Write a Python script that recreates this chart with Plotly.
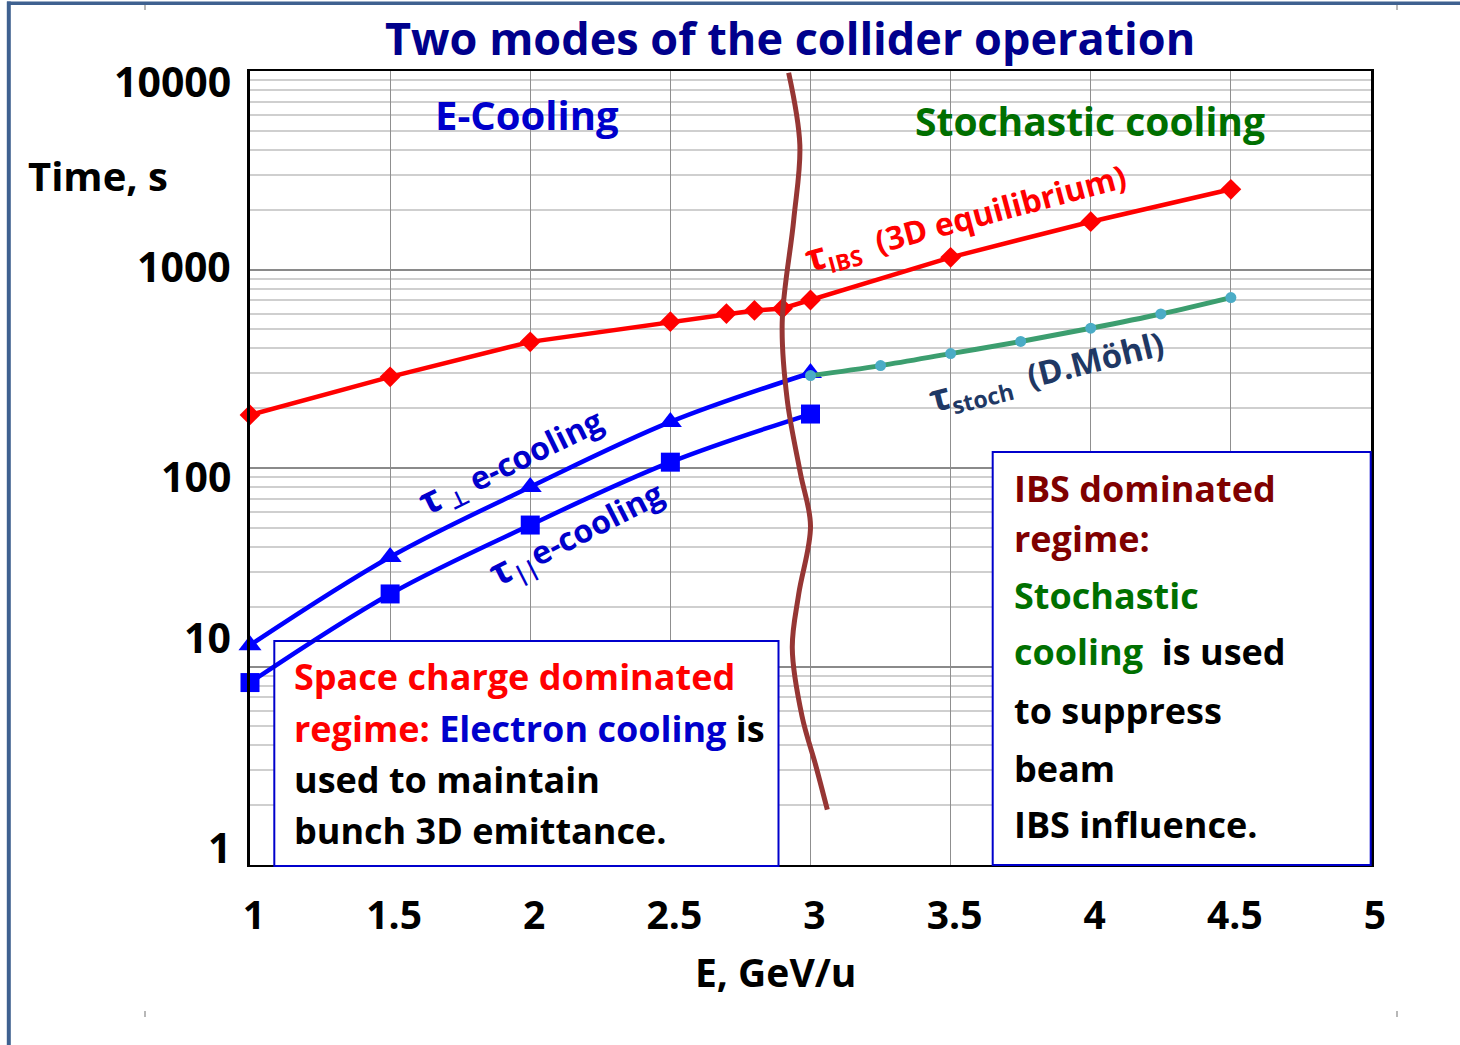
import math
import plotly.graph_objects as go

# ---------------- data ----------------
# IBS growth time (3D equilibrium)
energy_ibs = [1.0, 1.5, 2.0, 2.5, 2.7, 2.8, 2.9, 3.0, 3.5, 4.0, 4.5]
tau_ibs = [185, 288, 432, 546, 600, 622, 636, 702, 1152, 1741, 2535]

# electron cooling times
energy_ecool = [1.0, 1.5, 2.0, 2.5, 3.0]
tau_perp = [12.8, 35.6, 80.2, 170.6, 301]
tau_par = [8.3, 23.2, 51.6, 107, 187]

# stochastic cooling time (D. Moehl)
energy_stoch = [3.0, 3.25, 3.5, 3.75, 4.0, 4.25, 4.5]
tau_stoch = [292, 328, 377, 434, 506, 597, 722]

# boundary between the two operating modes
boundary_energy = [2.922, 2.962, 2.940, 2.899, 2.917, 2.964, 3.0, 2.958, 2.935, 2.970, 3.018, 3.06]
boundary_time = [9800, 4240, 1770, 541, 220, 94, 51, 23.2, 12.4, 5.6, 3.2, 1.9]

x_ticks = [1, 1.5, 2, 2.5, 3, 3.5, 4, 4.5, 5]
x_tick_labels = ["1", "1.5", "2", "2.5", "3", "3.5", "4", "4.5", "5"]
y_ticks = [1, 10, 100, 1000, 10000]
y_tick_labels = ["1", "10", "100", "1000", "10000"]

# ---------------- geometry helpers ----------------
W, H = 1460, 1045
L, R, T, B = 250, 89, 71, 180
PW, PH = W - L - R, H - T - B
X_RANGE = (1, 5)
LOG_RANGE = (0, 4)


def px(xp):
    """pixel column -> paper x"""
    return (xp - L) / PW


def py(yp):
    """pixel row -> paper y"""
    return (H - B - yp) / PH


def dx(xp):
    """pixel column -> energy"""
    return X_RANGE[0] + px(xp) * (X_RANGE[1] - X_RANGE[0])


def dy(yp):
    """pixel row -> time (log axis)"""
    return 10 ** (LOG_RANGE[0] + py(yp) * (LOG_RANGE[1] - LOG_RANGE[0]))


FONT = "'Open Sans', 'Noto Sans', 'DejaVu Sans', sans-serif"

fig = go.Figure()

# white backgrounds of the two text boxes: above the grid, below the curves
for (xa, xb, ya, yb) in ((274.3, 778.5, 866, 641), (992.7, 1370.7, 866, 452)):
    fig.add_trace(go.Scatter(
        x=[dx(xa), dx(xb), dx(xb), dx(xa), dx(xa)],
        y=[dy(ya), dy(ya), dy(yb), dy(yb), dy(ya)],
        mode="lines", fill="toself", fillcolor="white",
        line=dict(width=0, color="white"), hoverinfo="skip", showlegend=False))

fig.add_trace(go.Scatter(
    x=energy_ibs, y=tau_ibs, mode="lines+markers",
    line=dict(color="#FF0000", width=4.5),
    marker=dict(symbol="diamond", size=16, color="#FF0000"),
    cliponaxis=False, name="tau_IBS"))

fig.add_trace(go.Scatter(
    x=energy_ecool, y=tau_perp, mode="lines+markers",
    line=dict(color="#0000FF", width=4.5, shape="spline"),
    marker=dict(symbol="triangle-up", size=20, color="#0000FF"),
    cliponaxis=False, name="tau_perp"))

fig.add_trace(go.Scatter(
    x=energy_ecool, y=tau_par, mode="lines+markers",
    line=dict(color="#0000FF", width=4.5, shape="spline"),
    marker=dict(symbol="square", size=19, color="#0000FF"),
    cliponaxis=False, name="tau_par"))

fig.add_trace(go.Scatter(
    x=energy_stoch, y=tau_stoch, mode="lines+markers",
    line=dict(color="#3C9E6F", width=5, shape="spline"),
    marker=dict(symbol="circle", size=11, color="#4BACC6"),
    cliponaxis=False, name="tau_stoch"))

fig.add_trace(go.Scatter(
    x=boundary_energy, y=boundary_time, mode="lines",
    line=dict(color="#963634", width=5, shape="spline"),
    cliponaxis=False, name="boundary"))

minor_vals = [m * 10 ** k for k in range(4) for m in range(2, 10)]

fig.update_layout(
    width=W, height=H,
    margin=dict(l=L, r=R, t=T, b=B),
    paper_bgcolor="white", plot_bgcolor="white",
    showlegend=False,
    font=dict(family=FONT, color="black"),
    xaxis=dict(
        range=list(X_RANGE), tickmode="array", tickvals=x_ticks, ticktext=x_tick_labels,
        showgrid=True, gridcolor="#8F8F8F", gridwidth=1.2,
        showline=True, linecolor="black", linewidth=2, mirror=True,
        zeroline=False, ticks="", ticklabelstandoff=15, ticklabelshift=4,
        tickfont=dict(family=FONT, size=39, color="black", weight="bold"),
    ),
    yaxis=dict(
        type="log", range=list(LOG_RANGE), tickmode="array", tickvals=y_ticks,
        showticklabels=False,
        showgrid=True, gridcolor="#8A8A8A", gridwidth=1.5,
        minor=dict(tickmode="array", tickvals=minor_vals, showgrid=True,
                   gridcolor="#CFCFCF", gridwidth=1.5, ticks=""),
        showline=True, linecolor="black", linewidth=2.5, mirror=True,
        zeroline=False, ticks="",
    ),
)

annotations = []

# y tick labels, nudged the way they sit on the slide
y_label_shift = {1: 18, 10: 30, 100: -8, 1000: 3.6, 10000: -9.7}
for v, lab in zip(y_ticks, y_tick_labels):
    annotations.append(dict(
        x=px(233), xref="paper", y=math.log10(v), yref="y",
        xanchor="right", yanchor="middle", yshift=y_label_shift[v],
        text=lab, showarrow=False,
        font=dict(family=FONT, size=41, color="black", weight="bold")))


def label(xp, yp, text, size, color, angle=0, anchor="center"):
    annotations.append(dict(
        x=px(xp), y=py(yp), xref="paper", yref="paper",
        xanchor=anchor, yanchor="middle", text=text, showarrow=False,
        textangle=angle,
        font=dict(family=FONT, size=size, color=color, weight="bold")))


TAU = "<span style='font-size:38px'>τ</span>"

# titles
label(790, 38, "Two modes of the collider operation", 45, "#00008C")
label(97.5, 175, "Time, s", 40, "black")
label(775, 971, "E, GeV/u", 39, "black")
label(526.5, 115, "E-Cooling", 40, "#0000CC")
label(1089.5, 121, "Stochastic cooling", 39, "#006F00")

# curve labels
label(510, 461, f"{TAU}<sub> ⊥</sub> e-cooling", 32, "#0000CC", angle=-26)
label(575, 532, f"{TAU}<sub>||</sub>e-cooling", 32, "#0000CC", angle=-27)
label(965, 216, f"{TAU}<sub>IBS</sub>&nbsp; (3D equilibrium)", 32, "#FF0000", angle=-15)
label(1046, 370, f"{TAU}<sub>stoch</sub>&nbsp; (D.Möhl)", 33, "#1F3864", angle=-14)

# left text box
RED, BLUE, MAROON, GREEN = "#FF0000", "#0000CC", "#7F0000", "#007000"
left_lines = [
    (676, f"<span style='color:{RED}'>Space charge dominated</span>"),
    (728, f"<span style='color:{RED}'>regime: </span><span style='color:{BLUE}'>Electron cooling</span> is"),
    (779, "used to maintain"),
    (830, "bunch 3D emittance."),
]
for yp, txt in left_lines:
    label(292, yp, txt, 36, "black", anchor="left")

right_lines = [
    (488, f"<span style='color:{MAROON}'>IBS dominated</span>"),
    (538, f"<span style='color:{MAROON}'>regime:</span>"),
    (595, f"<span style='color:{GREEN}'>Stochastic</span>"),
    (651, f"<span style='color:{GREEN}'>cooling</span>&nbsp; is used"),
    (710, "to suppress"),
    (768, "beam"),
    (824, "IBS influence."),
]
for yp, txt in right_lines:
    label(1012, yp, txt, 36, "black", anchor="left")

fig.update_layout(annotations=annotations)

shapes = [
    # text box borders
    dict(type="rect", xref="paper", yref="paper",
         x0=px(274.3), x1=px(778.5), y0=py(866), y1=py(641),
         line=dict(color="#0000CC", width=2), layer="above"),
    dict(type="rect", xref="paper", yref="paper",
         x0=px(992.7), x1=px(1370.7), y0=py(865), y1=py(452),
         line=dict(color="#0000CC", width=2), layer="above"),
    # slide frame
    dict(type="line", xref="paper", yref="paper",
         x0=px(8.8), x1=px(8.8), y0=py(1.5), y1=py(1045),
         line=dict(color="#3F6190", width=4), layer="above"),
    dict(type="line", xref="paper", yref="paper",
         x0=px(7), x1=px(1460), y0=py(3.3), y1=py(3.3),
         line=dict(color="#3F6190", width=3.5), layer="above"),
]
for hx in (145, 1397):
    for y0, y1 in ((5, 10), (1011, 1017)):
        shapes.append(dict(type="line", xref="paper", yref="paper",
                           x0=px(hx), x1=px(hx), y0=py(y0), y1=py(y1),
                           line=dict(color="#A0A0A0", width=1.5), layer="above"))
fig.update_layout(shapes=shapes)

fig.write_html("out.html")
